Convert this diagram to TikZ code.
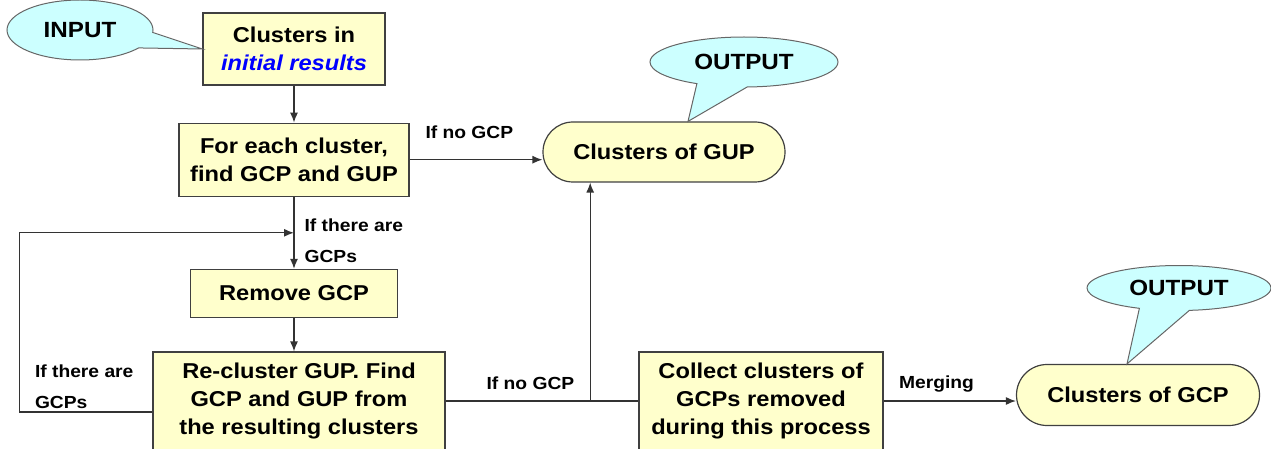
\documentclass[tikz,border=0pt]{standalone}
\usepackage{fontspec}
\setmainfont{Liberation Sans}[FakeStretch=1.1]
\usetikzlibrary{positioning, calc, shapes.callouts, arrows.meta}
\definecolor{boxyellow}{RGB}{255,255,204}
\definecolor{bubblecyan}{RGB}{204,255,255}

\begin{document}
\begin{tikzpicture}[
    x=1pt, y=-1pt,
    >={Latex[length=10pt, width=8pt]},
    flow/.style={draw=black!80, line width=1.2pt},
    procbox/.style={draw=black!75, line width=1.2pt, fill=boxyellow, align=center, inner sep=0pt, font=\fontsize{21.5}{28}\selectfont\bfseries},
    resbox/.style={procbox, rounded corners=30pt},
    bubble/.style={ellipse callout, draw=black!60, line width=1pt, fill=bubblecyan, callout pointer arc=32, inner sep=0pt, font=\fontsize{22}{26}\selectfont\bfseries},
    label/.style={inner sep=0pt, align=left, font=\fontsize{17.5}{31}\selectfont\bfseries}]

    \clip (0,0) rectangle (1271,449);

    \node at (294,49) [procbox, minimum width=182pt, minimum height=72pt] (initial) {Clusters in\\ \textcolor{blue}{\itshape initial results}};
    \node [procbox, minimum width=230pt, minimum height=73pt, below=37pt of initial] (foreach) {For each cluster,\\find GCP and GUP};
    \node [procbox, minimum width=207pt, minimum height=48pt, below=72pt of foreach] (remove) {Remove GCP};
    \node at (299,401) [procbox, minimum width=292pt, minimum height=98pt] (recluster) {Re-cluster GUP. Find\\GCP and GUP from\\the resulting clusters};
    \node at (761,401) [procbox, minimum width=244pt, minimum height=98pt] (collect) {Collect clusters of\\GCPs removed\\during this process};

    \node at (664,152) [resbox, minimum width=242pt, minimum height=60pt] (gup) {Clusters of GUP};
    \node at (1138,395) [resbox, rounded corners=30.5pt, minimum width=243pt, minimum height=61pt] (gcp) {Clusters of GCP};

    %%% Callouts
    \node at (80,30) [bubble, minimum width=146pt, minimum height=60pt, callout absolute pointer={(initial.west)}] (input) {INPUT};
    \node at (744,62) [bubble, minimum width=188pt, minimum height=50pt, callout absolute pointer={([xshift=24pt]gup.north)}] (outgup) {OUTPUT};
    \node at (1179,288) [bubble, minimum width=184pt, minimum height=45pt, callout absolute pointer={([xshift=-11pt]gcp.north)}] (outgcp) {OUTPUT};

    %%% Flow
    \coordinate (loopin) at ($(foreach.south)!0.5!(remove.north)$);
    \coordinate (branch) at ($(recluster.east)!0.75!(collect.west)$);

    \draw [flow, ->] (initial) -- (foreach);
    \draw [flow, ->] (foreach) -- (foreach -| gup.west) node[label, pos=0.45, above=20pt] {If no GCP};
    \draw [flow, ->] (foreach) -- (remove) node[label, pos=0.61, right=10pt] {If there are\\GCPs};
    \draw [flow, ->] (remove) -- (remove |- recluster.north);
    \draw [flow, ->] ([yshift=-11pt]recluster.west) -- ++(-133,0) node[label, pos=1, anchor=south west, xshift=15pt, yshift=3pt] {If there are\\GCPs} |- (loopin);
    \draw [flow] (recluster.east) -- (collect.west) node[label, pos=0.44, above=11pt] {If no GCP};
    \draw [flow, ->] (branch) -- (branch |- gup.south);
    \draw [flow, ->] (collect.east) -- (collect.east -| gcp.west) node[label, pos=0.4, above=8pt] {Merging};

\end{tikzpicture}
\end{document}
